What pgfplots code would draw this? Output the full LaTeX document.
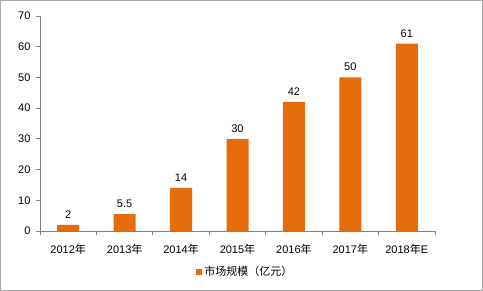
\documentclass[border=0pt]{standalone}
\usepackage{pgfplots}
\pgfplotsset{compat=1.18}
\usepackage{fontspec}
\setmainfont{Liberation Sans}
\newfontfamily\cjk{Noto Sans CJK SC}
\definecolor{barorange}{HTML}{E46C0A}
\begin{document}
\begin{tikzpicture}
\draw[gray!70, line width=1pt] (0.5pt,0.5pt) rectangle (482.5pt,290.5pt);
\begin{axis}[
  at={(40pt,60pt)}, anchor=south west,
  scale only axis, width=395pt, height=215pt,
  xmin=-0.5, xmax=6.5, ymin=0, ymax=70,
  ytick={0,10,...,70},
  xtick={-0.5,0.5,1.5,2.5,3.5,4.5,5.5,6.5},
  xticklabels={},
  extra x ticks={0,1,2,3,4,5,6},
  extra x tick labels={2012{\cjk 年},2013{\cjk 年},2014{\cjk 年},2015{\cjk 年},2016{\cjk 年},2017{\cjk 年},2018{\cjk 年}E},
  extra x tick style={major tick length=0pt, xticklabel style={yshift=-10pt}},
  axis x line*=bottom, axis y line*=left,
  axis line style={gray, line width=0.8pt},
  tick style={gray, line width=0.8pt},
  major tick length=4pt,
  tick align=outside,
  tick label style={font=\fontsize{11}{13}\selectfont},
  /pgf/number format/assume math mode=true,
  yticklabel style={xshift=-2pt},
  ybar, bar width=22pt,
  nodes near coords,
  every node near coord/.append style={font=\fontsize{11}{13}\selectfont, yshift=3pt},
  legend style={at={(0.52,-0.19)}, anchor=center, draw=none, font=\fontsize{11}{13}\selectfont, inner sep=1pt},
  legend image code/.code={\fill[barorange] (0pt,-3pt) rectangle (6pt,3pt);},
]
\addplot[fill=barorange, draw=none, point meta=explicit symbolic] coordinates {
  (0,2) [2] (1,5.5) [5.5] (2,14) [14] (3,30) [30] (4,42) [42] (5,50) [50] (6,61) [61]
};
\addlegendentry{\cjk 市场规模（亿元）}
\end{axis}
\end{tikzpicture}
\end{document}
